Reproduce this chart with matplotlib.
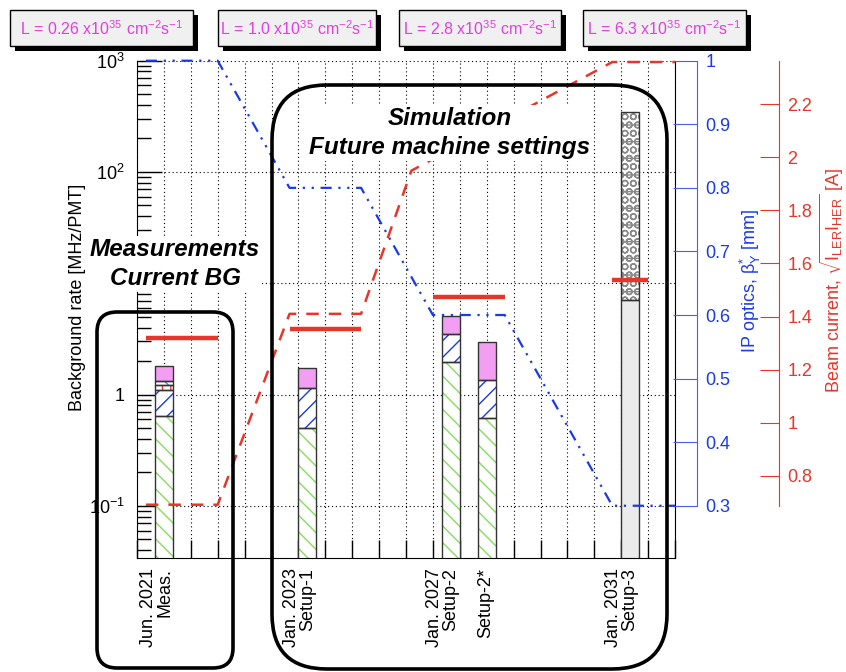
import numpy as np
import matplotlib
matplotlib.use("Agg")
import matplotlib.pyplot as plt
from matplotlib.patches import Rectangle, FancyBboxPatch
from matplotlib.ticker import FixedLocator, FixedFormatter, LogLocator, NullFormatter
import matplotlib.transforms as mtransforms

plt.rcParams['font.family'] = ['Liberation Sans', 'DejaVu Sans']
plt.rcParams['mathtext.default'] = 'regular'
plt.rcParams['hatch.linewidth'] = 1.0

# bars along the time axis
bar_x = [1.0, 6.33, 11.67, 13.0, 18.33]
label_x = [0.72, 6.03, 11.37, 12.96, 18.03]
bar_labels = ["Jun. 2021\nMeas.", "Jan. 2023\nSetup-1", "Jan. 2027\nSetup-2",
              "Setup-2*", "Jan. 2031\nSetup-3"]

# stacked components (cumulative tops) for Meas., Setup-1, Setup-2, Setup-2*
green_top = [0.647, 0.497, 1.95, 0.61]
blue_top = [1.11, 1.15, 3.47, 1.36]
red_top = [1.22, 1.15, 3.47, 1.36]
cyan_top = [1.32, 1.15, 3.47, 1.36]
pink_top = [1.79, 1.73, 5.07, 2.96]

# Setup-3 (last bar)
setup3_low = 7.14
setup3_high = 349.0

# red limit lines
limit_x0 = [0.33, 5.67, 11.0, 17.67]
limit_x1 = [3.0, 8.33, 13.67, 19.0]
limit_val = [3.21, 3.91, 7.59, 10.8]

# IP optics beta*_y [mm]
beta_x = [0.33, 3.0, 5.67, 8.33, 11.0, 13.67, 17.67, 20.0]
beta_y = [1.0, 1.0, 0.8, 0.8, 0.6, 0.6, 0.3, 0.3]

# beam current sqrt(I_LER I_HER) [A]
cur_x = [0.33, 3.0, 5.67, 8.33, 10.2, 17.67, 20.0]
cur_y = [0.69, 0.69, 1.41, 1.41, 1.95, 2.36, 2.36]

lumi = ["0.26", "1.0", "2.8", "6.3"]

BLUE = '#1a3ae8'
RED = '#e8352a'
PINK = '#f29ef2'
GREEN = '#86dc5c'
MAG = '#e23de2'
W = 0.67

fig = plt.figure(figsize=(8.46, 6.72), dpi=100)
ax = fig.add_axes([137 / 846, 1 - 558 / 672, 538 / 846, (558 - 60.7) / 672])


def seg(x, bottom, top, face, hatch=None, hcolor='black'):
    if top <= bottom:
        return
    ax.bar(x, top - bottom, bottom=bottom, width=W, color=face, hatch=hatch,
           edgecolor=hcolor, lw=0, zorder=2)
    ax.bar(x, top - bottom, bottom=bottom, width=W, fill=False,
           edgecolor='#333333', lw=1.0, zorder=3)


for i in range(4):
    x = bar_x[i]
    seg(x, 0.01, green_top[i], 'white', '\\\\', GREEN)
    seg(x, green_top[i], blue_top[i], 'white', '//', BLUE)
    seg(x, blue_top[i], red_top[i], 'white', '||', RED)
    seg(x, red_top[i], cyan_top[i], 'white', '\\\\', '#3aa0a0')
    seg(x, cyan_top[i], pink_top[i], PINK)

seg(bar_x[4], 0.01, setup3_low, '#ebebeb')
seg(bar_x[4], setup3_low, setup3_high, 'white', 'OO-', '#8a8a8a')

for x0, x1, v in zip(limit_x0, limit_x1, limit_val):
    ax.plot([x0, x1], [v, v], color=RED, lw=3.2, solid_capstyle='butt', zorder=4)

ax.set_yscale('log')
ax.set_ylim(0.034, 1000)
ax.set_xlim(0, 20)
ax.set_xticks(range(0, 21))
ax.set_xticklabels([])
ax.yaxis.set_major_locator(FixedLocator([0.1, 1, 10, 100, 1000]))
ax.yaxis.set_major_formatter(FixedFormatter(['$10^{-1}$', '1', '', '$10^{2}$', '$10^{3}$']))
ax.yaxis.set_minor_locator(LogLocator(base=10, subs=np.arange(2, 10)))
ax.yaxis.set_minor_formatter(NullFormatter())
ax.tick_params(axis='x', direction='in', length=13, width=1, top=False)
ax.tick_params(axis='y', which='major', direction='in', length=18, width=1, labelsize=13, pad=9)
ax.tick_params(axis='y', which='minor', direction='in', length=10, width=1)
ax.grid(True, which='major', ls=(0, (1, 2.5)), color='black', lw=0.8)
ax.set_axisbelow(True)
ax.spines['top'].set_visible(False)
ax.set_ylabel('Background rate [MHz/PMT]', fontsize=13)
ax.yaxis.set_label_coords(-0.095, 0.525)

trans = mtransforms.blended_transform_factory(ax.transData, ax.transAxes)
for lx, lab in zip(label_x, bar_labels):
    ax.text(lx, -0.02, lab, transform=trans, rotation=90, ha='center', va='top',
            multialignment='right', fontsize=13, linespacing=0.95)

# IP optics axis
ax_b = ax.twinx()
ax_b.plot(beta_x, beta_y, color=BLUE, lw=1.6, ls=(0, (5, 3, 1, 3, 1, 3)), zorder=5,
          clip_on=False)
ax_b.set_ylim(0.2178, 1.0)
ax_b.set_xlim(0, 20)
for s in ['top', 'left', 'bottom']:
    ax_b.spines[s].set_visible(False)
ax_b.spines['right'].set_position(('axes', 1.0409))
ax_b.spines['right'].set_bounds(0.3, 1.0)
ax_b.spines['right'].set_color('#4a5ee8')
ax_b.set_yticks(np.arange(3, 11) / 10)
ax_b.set_yticklabels(['0.3', '0.4', '0.5', '0.6', '0.7', '0.8', '0.9', '1'])
ax_b.tick_params(axis='y', direction='in', length=17, color='#4a5ee8',
                 labelcolor=BLUE, labelsize=13, pad=6)
ax_b.set_ylabel('IP optics, β$^{*}_{Y}$ [mm]', color=BLUE, fontsize=13)
ax_b.yaxis.set_label_coords(1.117, 0.557)

# beam current axis
ax_r = ax.twinx()
ax_r.plot(cur_x, cur_y, color=RED, lw=1.8, ls=(0, (5, 4)), zorder=5, clip_on=False)
ax_r.set_ylim(0.489, 2.365)
ax_r.set_xlim(0, 20)
for s in ['top', 'left', 'bottom']:
    ax_r.spines[s].set_visible(False)
ax_r.spines['right'].set_position(('axes', 1.1933))
ax_r.spines['right'].set_bounds(0.687, 2.365)
ax_r.spines['right'].set_color(RED)
ax_r.set_yticks([0.8, 1.0, 1.2, 1.4, 1.6, 1.8, 2.0, 2.2])
ax_r.set_yticklabels(['0.8', '1', '1.2', '1.4', '1.6', '1.8', '2', '2.2'])
ax_r.tick_params(axis='y', direction='in', length=14, color=RED,
                 labelcolor=RED, labelsize=13, pad=6)
ax_r.set_ylabel(r'Beam current, $\sqrt{I_{LER}I_{HER}}$ [A]', color=RED, fontsize=13)
ax_r.yaxis.set_label_coords(1.266, 0.557)

# annotations in figure pixel units
tr = fig.dpi_scale_trans


def box_px(x0, y0, x1, y1):
    return x0 / 100, (672 - y1) / 100, (x1 - x0) / 100, (y1 - y0) / 100


fig.text(175 / 846, 1 - 264 / 672, 'Measurements\nCurrent BG', ha='center', va='center',
         fontsize=17.5, fontweight='bold', fontstyle='italic', linespacing=1.35, zorder=10,
         bbox=dict(facecolor='white', edgecolor='none', pad=1))
fig.text(450 / 846, 1 - 133 / 672, 'Simulation\nFuture machine settings', ha='center',
         va='center', fontsize=17.5, fontweight='bold', fontstyle='italic', linespacing=1.35,
         zorder=10, bbox=dict(facecolor='white', edgecolor='none', pad=1))

for (x0, y0, x1, y1, r) in [(97, 312, 233, 668, 0.2), (272, 85, 667, 669, 0.55)]:
    x, y, w, h = box_px(x0, y0, x1, y1)
    fig.add_artist(FancyBboxPatch((x, y), w, h, boxstyle=f"round,pad=0,rounding_size={r}",
                                  transform=tr, fill=False, lw=2.6, ec='black', zorder=11))

lumi_x0 = [10, 218, 399, 583]
lumi_x1 = [193, 376, 561, 746]
for x0, x1, val in zip(lumi_x0, lumi_x1, lumi):
    x, y, w, h = box_px(x0, 10, x1, 46)
    fig.add_artist(Rectangle((x + 0.05, y - 0.05), w, h, transform=tr, fc='black',
                             ec='none', zorder=11))
    fig.add_artist(Rectangle((x, y), w, h, transform=tr, fc='#f0f0f0', ec='black',
                             lw=1, zorder=12))
    fig.text((x0 + x1) / 2 / 846, 1 - 29 / 672,
             f'L = {val} x10$^{{35}}$ cm$^{{-2}}$s$^{{-1}}$', ha='center', va='center',
             color=MAG, fontsize=11.5, zorder=13)

fig.savefig('out.png', dpi=100)
